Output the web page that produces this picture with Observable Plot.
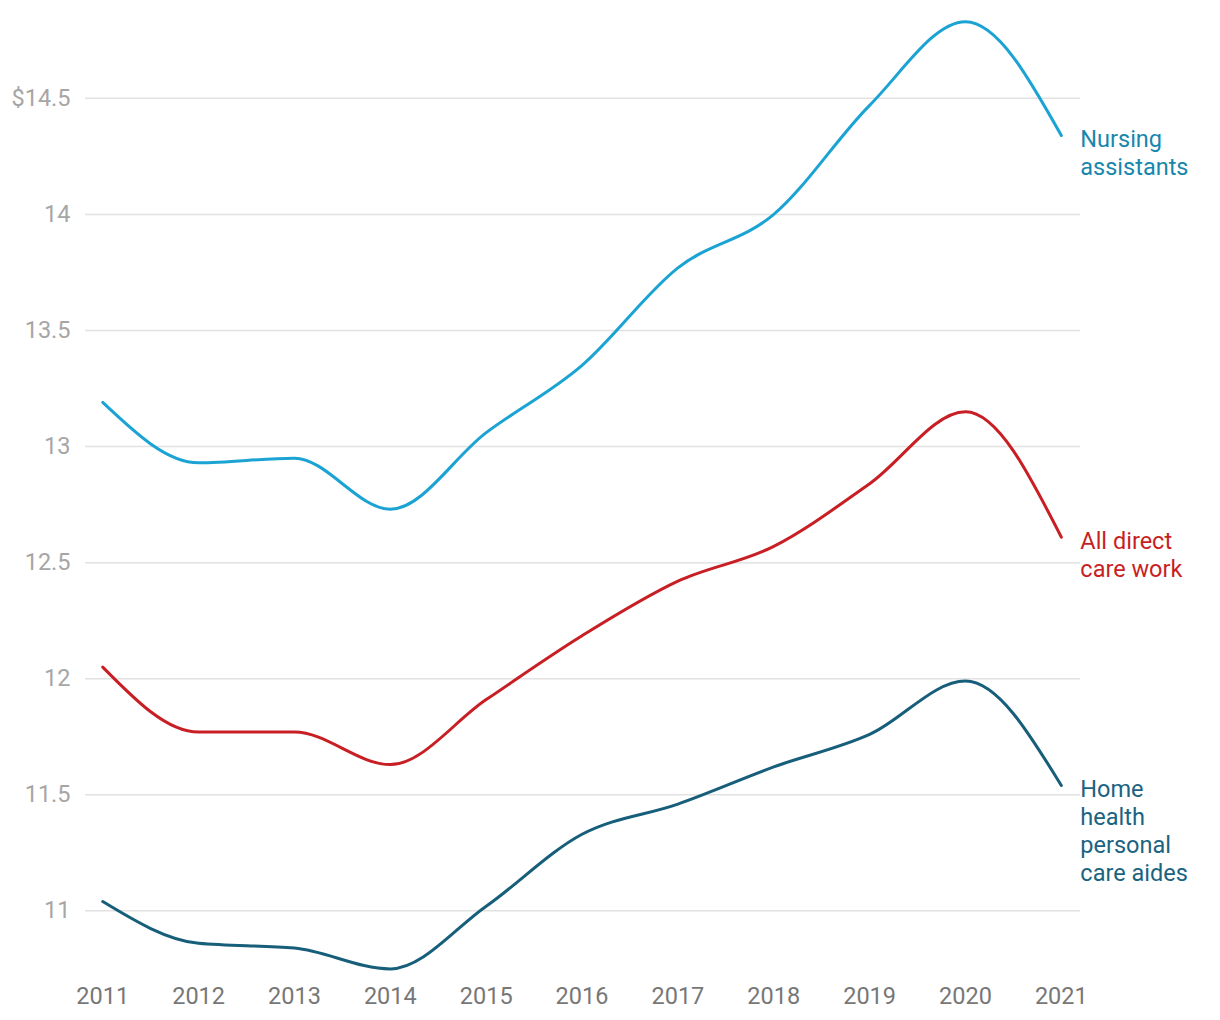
<!DOCTYPE html>
<html>
<head>
<meta charset="utf-8">
<script src="https://cdn.jsdelivr.net/npm/d3@7"></script>
<script src="https://cdn.jsdelivr.net/npm/@observablehq/plot@0.6"></script>
<style>
  html, body { margin: 0; padding: 0; background: #fff; }
  body { font-family: Roboto, "Noto Sans", sans-serif; }
</style>
</head>
<body>
<div id="chart"></div>
<script>
const years = [2011, 2012, 2013, 2014, 2015, 2016, 2017, 2018, 2019, 2020, 2021];
const nursingAssistants = [13.19, 12.93, 12.95, 12.73, 13.06, 13.35, 13.77, 14.00, 14.47, 14.83, 14.34];
const allDirectCare = [12.05, 11.77, 11.77, 11.63, 11.91, 12.185, 12.42, 12.57, 12.84, 13.15, 12.61];
const homeHealth = [11.04, 10.86, 10.84, 10.75, 11.02, 11.33, 11.46, 11.62, 11.76, 11.99, 11.54];

const seriesNames = ["Nursing assistants", "All direct care work", "Home health personal care aides"];
const seriesLabels = ["Nursing\nassistants", "All direct\ncare work", "Home\nhealth\npersonal\ncare aides"];
const lineColors = ["#1ba3d3", "#c81f24", "#175e7a"];
const labelColors = ["#1787ad", "#c81f24", "#1a6381"];
const yTicks = [11, 11.5, 12, 12.5, 13, 13.5, 14, 14.5];

const seriesValues = [nursingAssistants, allDirectCare, homeHealth];
const data = seriesNames.flatMap((name, i) =>
  years.map((year, j) => ({ series: name, year, value: seriesValues[i][j] }))
);
const lastPoints = seriesNames.map((name, i) => ({
  series: name,
  label: seriesLabels[i],
  year: years[years.length - 1],
  value: seriesValues[i][years.length - 1],
  color: labelColors[i]
}));

const chart = Plot.plot({
  width: 1220,
  height: 1020,
  marginLeft: 85,
  marginRight: 140,
  marginTop: 5,
  marginBottom: 40,
  style: { fontFamily: "Roboto, sans-serif", fontSize: "23.5px", background: "#fff" },
  x: { domain: [2010.82, 2021.2], ticks: years, tickFormat: d => String(d), label: null },
  y: { domain: [10.7, 14.9], ticks: yTicks, label: null },
  color: { domain: seriesNames, range: lineColors },
  marks: [
    Plot.gridY(yTicks, { stroke: "#e2e2e2", strokeOpacity: 1, strokeWidth: 1.5 }),
    Plot.axisY(yTicks, {
      tickSize: 0, tickPadding: 15, fontSize: 23.5, color: "#a6a6a6", label: null,
      tickFormat: d => d === d3.max(yTicks) ? "$" + d : String(d)
    }),
    Plot.axisX(years, {
      tickSize: 0, tickPadding: 7, fontSize: 23.5, color: "#777", label: null,
      tickFormat: d => String(d)
    }),
    Plot.line(data, {
      x: "year", y: "value", z: "series", stroke: "series",
      strokeWidth: 3, curve: "monotone-x"
    }),
    Plot.text(lastPoints, {
      x: "year", y: "value", text: "label", fill: "color",
      textAnchor: "start", lineAnchor: "top", dx: 19, dy: -8,
      fontSize: 23.5, lineHeight: 1.19
    })
  ]
});
document.getElementById("chart").appendChild(chart);
</script>
</body>
</html>
